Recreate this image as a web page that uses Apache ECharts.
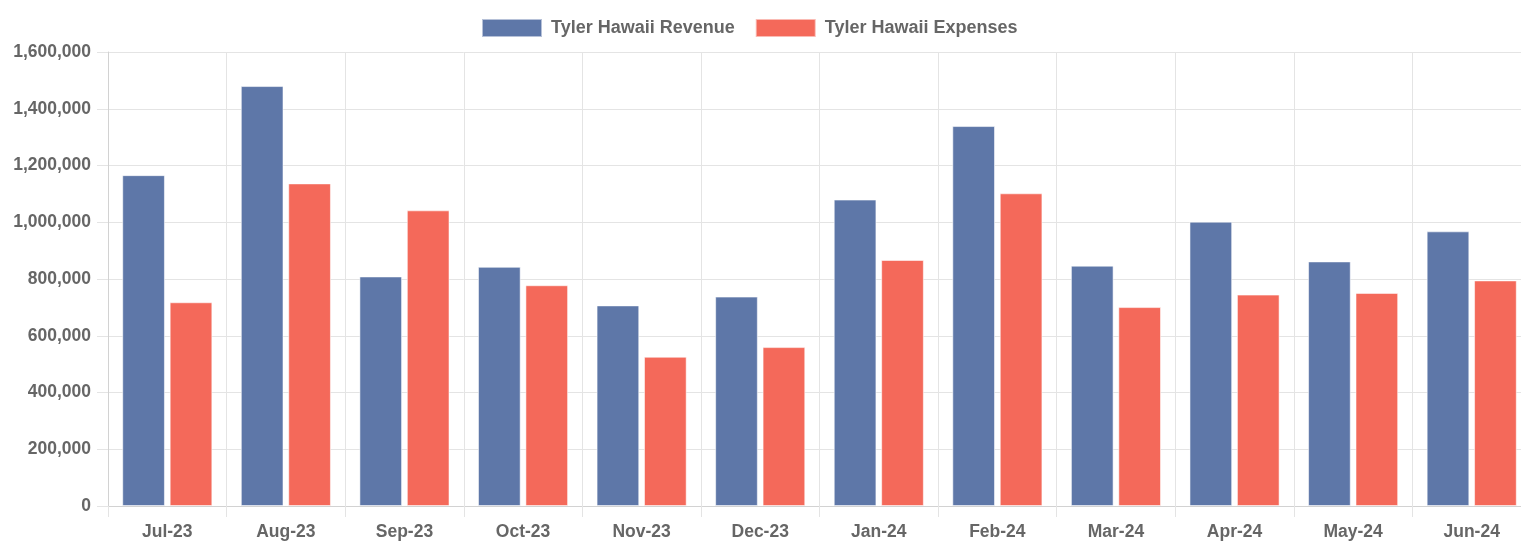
<!DOCTYPE html>
<html>
<head>
<meta charset="utf-8">
<script src="https://cdn.jsdelivr.net/npm/echarts@6/dist/echarts.min.js"></script>
<style>
  html, body { margin: 0; padding: 0; background: #fff; overflow: hidden; }
  /* canvas is a bit wider than the window: the plot runs past the right edge */
  #main { width: 1531px; height: 542px; }
</style>
</head>
<body>
<div id="main"></div>
<script>
var months = ['Jul-23', 'Aug-23', 'Sep-23', 'Oct-23', 'Nov-23', 'Dec-23',
              'Jan-24', 'Feb-24', 'Mar-24', 'Apr-24', 'May-24', 'Jun-24'];
var revenue = [1166000, 1480000, 809000, 843000, 707000, 738000,
               1080000, 1339000, 847000, 1002000, 862000, 968000];
var expenses = [718000, 1137000, 1042000, 778000, 526000, 560000,
                867000, 1102000, 701000, 745000, 751000, 795000];
var seriesNames = ['Tyler Hawaii Revenue', 'Tyler Hawaii Expenses'];

var myChart = echarts.init(document.getElementById('main'));

var font = '"Liberation Sans", Arial, sans-serif';
var gridColor = '#e4e4e4';
var axisColor = '#d2d2d2';

option = {
    animation: false,
    legend: {
        top: 13,
        left: 476,
        icon: 'rect',
        itemWidth: 60,
        itemHeight: 18,
        itemGap: 20,
        textStyle: {
            color: '#666',
            fontSize: 18,
            fontWeight: 'bold',
            fontFamily: font,
            padding: [0, 0, 0, 4]
        }
    },
    grid: {
        left: 108,
        right: 0,
        top: 52,
        bottom: 36,
        containLabel: false
    },
    xAxis: {
        type: 'category',
        data: months,
        axisLine: { lineStyle: { color: axisColor } },
        axisTick: { show: true, length: 11, lineStyle: { color: gridColor } },
        splitLine: { show: true, lineStyle: { color: gridColor } },
        axisLabel: {
            color: '#666',
            fontSize: 17.5,
            fontWeight: 'bold',
            fontFamily: font,
            margin: 17
        }
    },
    yAxis: {
        type: 'value',
        min: 0,
        max: 1600000,
        interval: 200000,
        axisLine: { show: true, lineStyle: { color: axisColor } },
        axisTick: { show: true, length: 11, lineStyle: { color: gridColor } },
        splitLine: { show: true, lineStyle: { color: gridColor } },
        axisLabel: {
            color: '#666',
            fontSize: 17.5,
            fontWeight: 'bold',
            fontFamily: font,
            margin: 17,
            formatter: function (v) { return v.toLocaleString('en-US'); }
        }
    },
    series: [
        {
            name: seriesNames[0],
            type: 'bar',
            data: revenue,
            barWidth: '36%',
            barGap: '11.1%',
            itemStyle: {
                color: '#5e77a8',
                borderColor: 'rgba(255,255,255,0.55)',
                borderWidth: 1
            }
        },
        {
            name: seriesNames[1],
            type: 'bar',
            data: expenses,
            barWidth: '36%',
            barGap: '11.1%',
            itemStyle: {
                color: '#f4695a',
                borderColor: 'rgba(255,255,255,0.55)',
                borderWidth: 1
            }
        }
    ]
};

myChart.setOption(option);
</script>
</body>
</html>
